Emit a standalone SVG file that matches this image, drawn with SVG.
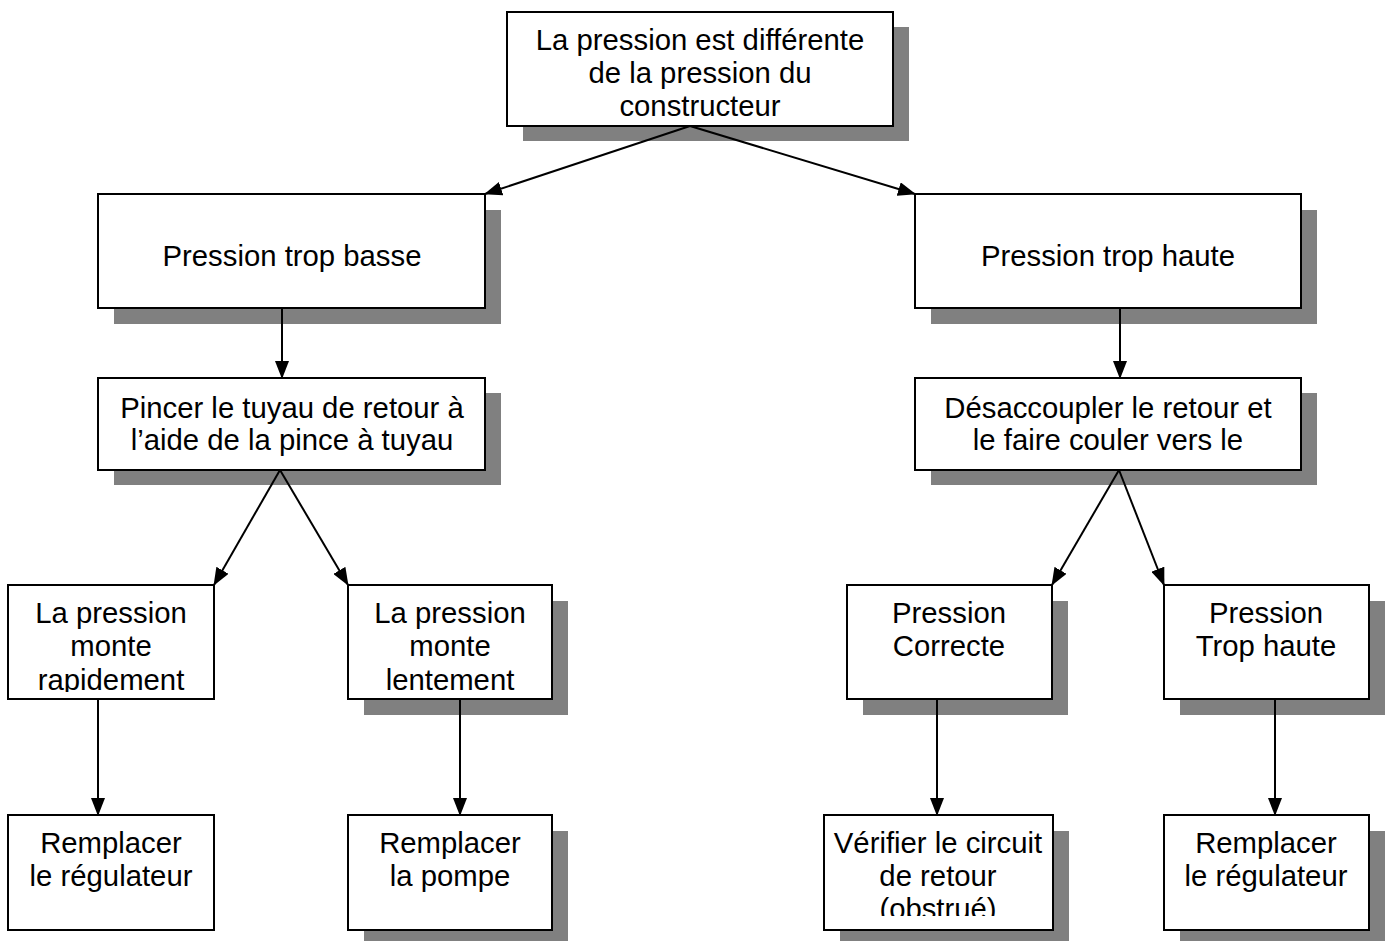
<svg xmlns="http://www.w3.org/2000/svg" width="1392" height="941" viewBox="0 0 1392 941">
<style>
.sh{fill:#808080;stroke:none}
.bx{fill:#fff;stroke:#000;stroke-width:2}
.t{font-family:"Liberation Sans",Arial,sans-serif;font-size:29.3px;fill:#000;text-anchor:middle}
.c{stroke:#000;stroke-width:2;fill:none;marker-end:url(#ah)}
</style>
<defs>
<marker id="ah" markerUnits="userSpaceOnUse" viewBox="0 0 18 14" markerWidth="18" markerHeight="14" refX="17" refY="7" orient="auto">
<path d="M0,0 L18,7 L0,14 z" fill="#000"/>
</marker>
<clipPath id="c1"><rect x="8" y="585" width="206" height="107"/></clipPath>
<clipPath id="c2"><rect x="348" y="585" width="204" height="107"/></clipPath>
<clipPath id="c3"><rect x="824" y="815" width="229" height="101"/></clipPath>
<clipPath id="c0"><rect x="507" y="12" width="386" height="106"/></clipPath>
<clipPath id="c4"><rect x="915" y="378" width="386" height="91"/></clipPath>
</defs>
<g id="n0">
<rect class="sh" x="523" y="27" width="386" height="114"/>
<rect class="bx" x="507" y="12" width="386" height="114"/>
<g clip-path="url(#c0)">
<text class="t" x="700" y="50">La pression est différente</text>
<text class="t" x="700" y="83">de la pression du</text>
<text class="t" x="700" y="116">constructeur</text>
</g>
</g>
<g id="n1">
<rect class="sh" x="114" y="210" width="387" height="114"/>
<rect class="bx" x="98" y="194" width="387" height="114"/>
<text class="t" x="292" y="266">Pression trop basse</text>
</g>
<g id="n2">
<rect class="sh" x="931" y="210" width="386" height="114"/>
<rect class="bx" x="915" y="194" width="386" height="114"/>
<text class="t" x="1108" y="266">Pression trop haute</text>
</g>
<g id="n3">
<rect class="sh" x="114" y="393" width="387" height="92"/>
<rect class="bx" x="98" y="378" width="387" height="92"/>
<text class="t" x="292" y="418">Pincer le tuyau de retour à</text>
<text class="t" x="292" y="450">l’aide de la pince à tuyau</text>
</g>
<g id="n4">
<rect class="sh" x="931" y="393" width="386" height="92"/>
<rect class="bx" x="915" y="378" width="386" height="92"/>
<g clip-path="url(#c4)">
<text class="t" x="1108" y="418">Désaccoupler le retour et</text>
<text class="t" x="1108" y="450">le faire couler vers le</text>
</g>
</g>
<g id="n5">
<rect class="bx" x="8" y="585" width="206" height="114"/>
<g clip-path="url(#c1)">
<text class="t" x="111" y="623">La pression</text>
<text class="t" x="111" y="656">monte</text>
<text class="t" x="111" y="690">rapidement</text>
</g>
</g>
<g id="n6">
<rect class="sh" x="364" y="601" width="204" height="114"/>
<rect class="bx" x="348" y="585" width="204" height="114"/>
<g clip-path="url(#c2)">
<text class="t" x="450" y="623">La pression</text>
<text class="t" x="450" y="656">monte</text>
<text class="t" x="450" y="690">lentement</text>
</g>
</g>
<g id="n7">
<rect class="sh" x="863" y="601" width="205" height="114"/>
<rect class="bx" x="847" y="585" width="205" height="114"/>
<text class="t" x="949" y="623">Pression</text>
<text class="t" x="949" y="656">Correcte</text>
</g>
<g id="n8">
<rect class="sh" x="1180" y="601" width="205" height="114"/>
<rect class="bx" x="1164" y="585" width="205" height="114"/>
<text class="t" x="1266" y="623">Pression</text>
<text class="t" x="1266" y="656">Trop haute</text>
</g>
<g id="n9">
<rect class="bx" x="8" y="815" width="206" height="115"/>
<text class="t" x="111" y="853">Remplacer</text>
<text class="t" x="111" y="886">le régulateur</text>
</g>
<g id="n10">
<rect class="sh" x="364" y="831" width="204" height="115"/>
<rect class="bx" x="348" y="815" width="204" height="115"/>
<text class="t" x="450" y="853">Remplacer</text>
<text class="t" x="450" y="886">la pompe</text>
</g>
<g id="n11">
<rect class="sh" x="840" y="831" width="229" height="115"/>
<rect class="bx" x="824" y="815" width="229" height="115"/>
<g clip-path="url(#c3)">
<text class="t" x="938" y="853">Vérifier le circuit</text>
<text class="t" x="938" y="886">de retour</text>
<text class="t" x="938" y="919">(obstrué)</text>
</g>
</g>
<g id="n12">
<rect class="sh" x="1180" y="831" width="205" height="115"/>
<rect class="bx" x="1164" y="815" width="205" height="115"/>
<text class="t" x="1266" y="853">Remplacer</text>
<text class="t" x="1266" y="886">le régulateur</text>
</g>
<g id="connectors">
<line class="c" x1="690" y1="126" x2="485" y2="194"/>
<line class="c" x1="690" y1="126" x2="915" y2="194"/>
<line class="c" x1="282" y1="308" x2="282" y2="378"/>
<line class="c" x1="1120" y1="308" x2="1120" y2="378"/>
<line class="c" x1="280" y1="470" x2="214" y2="585"/>
<line class="c" x1="280" y1="470" x2="348" y2="585"/>
<line class="c" x1="1119" y1="470" x2="1052" y2="585"/>
<line class="c" x1="1119" y1="470" x2="1164" y2="585"/>
<line class="c" x1="98" y1="699" x2="98" y2="815"/>
<line class="c" x1="460" y1="699" x2="460" y2="815"/>
<line class="c" x1="937" y1="699" x2="937" y2="815"/>
<line class="c" x1="1275" y1="699" x2="1275" y2="815"/>
</g>
</svg>
